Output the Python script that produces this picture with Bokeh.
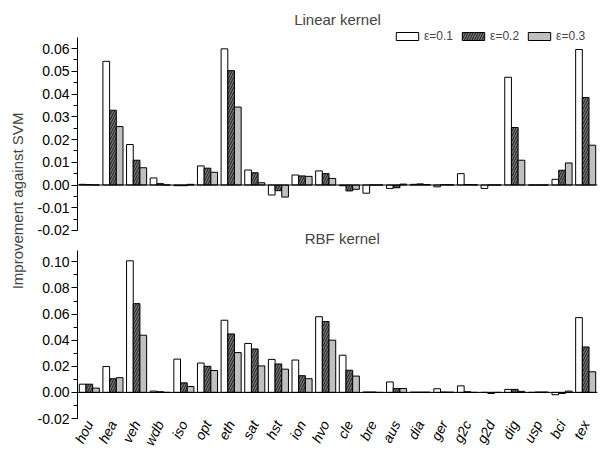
import math
from bokeh.plotting import figure
from bokeh.layouts import row, column
from bokeh.models import (FactorRange, Range1d, FixedTicker, NumeralTickFormatter,
                          Span, Label, Legend, LegendItem, ColumnDataSource)
from bokeh.transform import dodge
from bokeh.embed import file_html
from bokeh.resources import INLINE

# ---------------- data ----------------
categories = ["hou", "hea", "veh", "wdb", "iso", "opt", "eth", "sat", "hst", "ion", "hvo",
              "cle", "bre", "aus", "dia", "ger", "g2c", "g2d", "dig", "usp", "bci", "tex"]

series_labels = ["\u03b5=0.1", "\u03b5=0.2", "\u03b5=0.3"]

linear_e1 = [0.0003, 0.0544, 0.0178, 0.0031, -0.0003, 0.0084, 0.0599, 0.0066, -0.0044, 0.0044, 0.0062,
             -0.0003, -0.0036, -0.0015, 0.0003, -0.0008, 0.0050, -0.0015, 0.0474, 0.0, 0.0025, 0.0596]
linear_e2 = [0.0002, 0.0329, 0.0109, 0.0006, -0.0003, 0.0074, 0.0503, 0.0054, -0.0025, 0.0040, 0.0050,
             -0.0026, 0.0, -0.0012, 0.0005, 0.0002, 0.0002, 0.0, 0.0253, 0.0, 0.0065, 0.0385]
linear_e3 = [0.0, 0.0257, 0.0076, 0.0, 0.0003, 0.0056, 0.0343, 0.0010, -0.0053, 0.0038, 0.0029,
             -0.0019, 0.0, 0.0004, 0.0002, 0.0001, 0.0001, 0.0, 0.0109, 0.0, 0.0097, 0.0175]

rbf_e1 = [0.0063, 0.0198, 0.1008, 0.0010, 0.0255, 0.0225, 0.0553, 0.0375, 0.0253, 0.0248, 0.0580,
          0.0285, 0.0003, 0.0080, 0.0002, 0.0028, 0.0050, 0.0, 0.0023, 0.0, -0.0018, 0.0573]
rbf_e2 = [0.0063, 0.0105, 0.0680, 0.0005, 0.0073, 0.0200, 0.0448, 0.0333, 0.0218, 0.0128, 0.0543,
          0.0170, 0.0003, 0.0030, 0.0002, 0.0003, 0.0005, -0.0008, 0.0023, 0.0003, -0.0008, 0.0348]
rbf_e3 = [0.0033, 0.0113, 0.0438, 0.0, 0.0045, 0.0168, 0.0305, 0.0203, 0.0178, 0.0105, 0.0400,
          0.0125, 0.0, 0.0030, 0.0002, 0.0002, 0.0, 0.0, 0.0008, 0.0003, 0.0010, 0.0158]

linear_ticks = [-0.02, -0.01, 0.0, 0.01, 0.02, 0.03, 0.04, 0.05, 0.06]
linear_minor = [-0.02 + 0.005 * i for i in range(17)]
linear_bounds = (-0.02, 0.065)
rbf_ticks = [-0.02, 0.0, 0.02, 0.04, 0.06, 0.08, 0.10]
rbf_minor = [-0.02 + 0.01 * i for i in range(13)]
rbf_bounds = (-0.02, 0.1088)

# ---------------- style ----------------
FONT = "Liberation Sans"
BAR_W = 0.283
OFFS = [-BAR_W, 0.0, BAR_W]
FILLS = ["white", "#787878", "#c0c0c0"]
HATCH = [None, "/", None]

x_range = FactorRange(factors=categories, range_padding=0)


def make_panel(vals, y0, y1, ticks, minor, bounds, height, mbt, mbb, show_x):
    p = figure(width=570, height=height, x_range=x_range, y_range=Range1d(y0, y1),
               output_backend="svg", toolbar_location=None,
               min_border_left=47, min_border_right=3, min_border_top=mbt, min_border_bottom=mbb,
               x_axis_location="below" if show_x else None)
    p.outline_line_color = None
    p.grid.visible = False
    p.background_fill_color = "white"
    src = ColumnDataSource(dict(cat=categories, e1=vals[0], e2=vals[1], e3=vals[2]))
    rends = []
    for i, key in enumerate(["e1", "e2", "e3"]):
        kw = dict(x=dodge("cat", OFFS[i], range=x_range), top=key, bottom=0, width=BAR_W,
                  source=src, fill_color=FILLS[i], line_color="black", line_width=1)
        if HATCH[i]:
            kw.update(hatch_pattern=HATCH[i], hatch_color="black", hatch_scale=5, hatch_weight=0.8)
        rends.append(p.vbar(**kw))
    p.add_layout(Span(location=0, dimension="width", line_color="black", line_width=1))
    ax = p.yaxis[0]
    ax.bounds = bounds
    ax.ticker = FixedTicker(ticks=ticks, minor_ticks=minor)
    ax.formatter = NumeralTickFormatter(format="0.00")
    ax.axis_line_color = "black"
    ax.major_tick_line_color = "black"
    ax.minor_tick_line_color = "black"
    ax.major_tick_out = 6
    ax.major_tick_in = 0
    ax.minor_tick_out = 4
    ax.minor_tick_in = 0
    ax.major_label_standoff = 2
    ax.major_label_text_font = FONT
    ax.major_label_text_font_size = "14px"
    ax.major_label_text_color = "black"
    ax.axis_label = None
    if show_x:
        xa = p.xaxis[0]
        xa.axis_label = None
        xa.axis_line_color = None
        xa.major_tick_line_color = None
        xa.minor_tick_line_color = None
        xa.major_tick_out = 0
        xa.major_label_orientation = 1.1
        xa.major_label_text_font_style = "italic"
        xa.major_label_text_font = FONT
        xa.major_label_text_font_size = "14px"
        xa.major_label_text_color = "black"
        xa.major_label_standoff = 3
    return p, rends


# top panel: frame spans the whole canvas height so titles/legend stay inside it
k_top = 0.085 / 193.0
top, rends = make_panel([linear_e1, linear_e2, linear_e3],
                        -0.02 - 17 * k_top, 0.065 + 36.7 * k_top,
                        linear_ticks, linear_minor, linear_bounds, 247, 0, 0, False)
k_bot = 0.1288 / 174.0
bottom, _ = make_panel([rbf_e1, rbf_e2, rbf_e3], -0.02, 0.1088 + 3 * k_bot,
                       rbf_ticks, rbf_minor, rbf_bounds, 207, 0, 30, True)

top.add_layout(Label(x=11.0, y=0.065 + 18.2 * k_top, text="Linear kernel", text_align="center",
                     text_baseline="middle", text_font=FONT, text_font_size="15px"))
top.add_layout(Label(x=11.2, y=-0.02 - 8 * k_top, text="RBF kernel", text_align="center",
                     text_baseline="middle", text_font=FONT, text_font_size="15px"))

legend = Legend(items=[LegendItem(label=series_labels[i], renderers=[rends[i]]) for i in range(3)],
                orientation="horizontal", location=(316, 204),
                glyph_width=28, glyph_height=10, label_standoff=3, spacing=6,
                padding=0, margin=0, border_line_color=None, background_fill_alpha=0,
                label_text_font=FONT, label_text_font_size="12px", label_height=10,
                label_text_baseline="middle")
top.add_layout(legend)

ylab = figure(width=30, height=454, x_range=Range1d(0, 30), y_range=Range1d(0, 454),
              output_backend="svg", toolbar_location=None, x_axis_location=None, y_axis_location=None,
              min_border=0)
ylab.outline_line_color = None
ylab.grid.visible = False
ylab.add_layout(Label(x=16.7, y=253.5, text="Improvement against SVM", angle=math.pi / 2,
                      text_align="center", text_baseline="middle", text_font=FONT, text_font_size="15px"))

layout = row(ylab, column(top, bottom))
open("out.html", "w").write(file_html(layout, INLINE))
